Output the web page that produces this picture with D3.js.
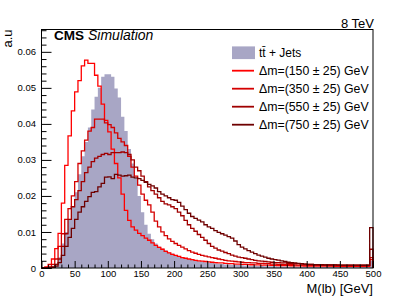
<!DOCTYPE html>
<html>
<head>
<meta charset="utf-8">
<script src="https://cdn.jsdelivr.net/npm/d3@7"></script>
<style>
body { margin: 0; background: #fff; }
text { font-family: "Liberation Sans", Arial, sans-serif; }
</style>
</head>
<body>
<div id="chart"></div>
<script>
var width = 415, height = 298
var margin = {top: 29.5, right: 42, bottom: 30, left: 41.5}

// 5 GeV bins from 0 to 500, values in a.u.
var binWidth = 5
var binStarts = d3.range(0, 500, binWidth)

var ttbar = [
  0, 0, 0.0002, 0.0006, 0.0012, 0.003, 0.0068, 0.0100, 0.0135, 0.0170,
  0.0210, 0.0260, 0.0310, 0.0350, 0.0390, 0.0440, 0.0475, 0.0500, 0.0531, 0.0538,
  0.0538, 0.0531, 0.0498, 0.0473, 0.0420, 0.0380, 0.0330, 0.0290, 0.0250, 0.0200,
  0.0155, 0.0120, 0.0095, 0.0080, 0.0068, 0.0060, 0.0054, 0.0049, 0.0044, 0.0040,
  0.0036, 0.0033, 0.0030, 0.0027, 0.0025, 0.0023, 0.0021, 0.0019, 0.0018, 0.0016,
  0.0015, 0.0014, 0.0013, 0.0012, 0.0011, 0.0010, 0.00095, 0.0009, 0.00085, 0.0008,
  0.00075, 0.0007, 0.00068, 0.00065, 0.0006, 0.00058, 0.00055, 0.00052, 0.0005, 0.00048,
  0.00046, 0.00044, 0.00042, 0.0004, 0.00038, 0.00037, 0.00036, 0.00035, 0.00034, 0.00033,
  0.00032, 0.00031, 0.0003, 0.0003, 0.00029, 0.00028, 0.00028, 0.00027, 0.00026, 0.00026,
  0.00025, 0.00025, 0.00024, 0.00024, 0.00023, 0.00023, 0.00022, 0.00022, 0.00021, 0.0020
]
var dm150 = [
  0, 0.0003, 0.0010, 0.0025, 0.0054, 0.0096, 0.0180, 0.0285, 0.0367, 0.0436,
  0.0489, 0.0520, 0.0561, 0.0577, 0.0568, 0.0568, 0.0535, 0.0505, 0.0455, 0.0410,
  0.0378, 0.0330, 0.0290, 0.0250, 0.0205, 0.0160, 0.0132, 0.0114, 0.0105, 0.0096,
  0.0090, 0.0083, 0.0077, 0.0070, 0.0063, 0.0057, 0.0052, 0.0046, 0.0042, 0.0038,
  0.0035, 0.0032, 0.0029, 0.0027, 0.0025, 0.0023, 0.0021, 0.0020, 0.0019, 0.0018,
  0.0017, 0.0016, 0.0015, 0.0014, 0.0014, 0.0013, 0.0012, 0.0012, 0.0011, 0.0011,
  0.0010, 0.0010, 0.00095, 0.0009, 0.00088, 0.00085, 0.00082, 0.0008, 0.00078, 0.00075,
  0.00072, 0.0007, 0.00068, 0.00066, 0.00064, 0.00062, 0.0006, 0.0006, 0.00058, 0.00056,
  0.00055, 0.00054, 0.00053, 0.00052, 0.00052, 0.00051, 0.0005, 0.0005, 0.00049, 0.00049,
  0.00048, 0.00048, 0.00047, 0.00047, 0.00046, 0.00046, 0.00045, 0.00045, 0.00045, 0.0023
]
var dm350 = [
  0, 0, 0.0003, 0.0010, 0.0025, 0.0060, 0.0095, 0.0135, 0.0165, 0.0200,
  0.0240, 0.0290, 0.0325, 0.0355, 0.0380, 0.0390, 0.0413, 0.0413, 0.0413, 0.0403,
  0.0398, 0.0390, 0.0375, 0.0360, 0.0350, 0.0340, 0.0310, 0.0280, 0.0255, 0.0230,
  0.0205, 0.0188, 0.0175, 0.0155, 0.0130, 0.0114, 0.0100, 0.0090, 0.0081, 0.0074,
  0.0068, 0.0063, 0.0058, 0.0053, 0.0048, 0.0044, 0.0041, 0.0038, 0.0035, 0.0033,
  0.0031, 0.0029, 0.0027, 0.0025, 0.0023, 0.0021, 0.0020, 0.0019, 0.0018, 0.0017,
  0.0016, 0.0015, 0.0015, 0.0014, 0.0014, 0.0013, 0.0013, 0.0012, 0.0012, 0.0011,
  0.0011, 0.0010, 0.0010, 0.00095, 0.0009, 0.0009, 0.00085, 0.0008, 0.0008, 0.00078,
  0.00076, 0.00075, 0.00074, 0.00073, 0.00072, 0.00071, 0.0007, 0.0007, 0.00069, 0.00068,
  0.00068, 0.00067, 0.00067, 0.00066, 0.00066, 0.00065, 0.00065, 0.00064, 0.00064, 0.0029
]
var dm550 = [
  0, 0, 0.0001, 0.0003, 0.0010, 0.0025, 0.0060, 0.0095, 0.0135, 0.0170,
  0.0190, 0.0215, 0.0240, 0.0265, 0.0280, 0.0295, 0.0305, 0.0310, 0.0315, 0.0318,
  0.0315, 0.0320, 0.0320, 0.0320, 0.0322, 0.0320, 0.0315, 0.0300, 0.0280, 0.0270,
  0.0255, 0.0240, 0.0225, 0.0215, 0.0205, 0.0195, 0.0185, 0.0178, 0.0175, 0.0170,
  0.0165, 0.0155, 0.0145, 0.0132, 0.0120, 0.0110, 0.0102, 0.0093, 0.0085, 0.0077,
  0.0068, 0.0060, 0.0055, 0.0050, 0.0047, 0.0043, 0.0040, 0.0036, 0.0033, 0.0030,
  0.0029, 0.0027, 0.0025, 0.0023, 0.0021, 0.0020, 0.0019, 0.0018, 0.0017, 0.0016,
  0.0015, 0.0015, 0.0014, 0.0014, 0.0013, 0.0013, 0.0012, 0.0012, 0.0011, 0.0011,
  0.0010, 0.0010, 0.00095, 0.00093, 0.0009, 0.00088, 0.00086, 0.00085, 0.00084, 0.00083,
  0.00082, 0.00081, 0.0008, 0.0008, 0.00079, 0.00078, 0.00078, 0.00077, 0.00076, 0.0052
]
var dm750 = [
  0, 0, 0, 0.0002, 0.0005, 0.0015, 0.0035, 0.0060, 0.0085, 0.0110,
  0.0135, 0.0155, 0.0170, 0.0185, 0.0198, 0.0210, 0.0212, 0.0225, 0.0235, 0.0252,
  0.0253, 0.0248, 0.0260, 0.0258, 0.0255, 0.0256, 0.0258, 0.0252, 0.0250, 0.0248,
  0.0243, 0.0238, 0.0232, 0.0228, 0.0222, 0.0212, 0.0205, 0.0200, 0.0195, 0.0190,
  0.0188, 0.0182, 0.0172, 0.0162, 0.0152, 0.0143, 0.0138, 0.0133, 0.0128, 0.0120,
  0.0114, 0.0110, 0.0104, 0.0099, 0.0095, 0.0091, 0.0087, 0.0083, 0.0075, 0.0065,
  0.0058, 0.0053, 0.0048, 0.0044, 0.0040, 0.0036, 0.0033, 0.0030, 0.0027, 0.0025,
  0.0023, 0.0022, 0.0020, 0.0018, 0.0016, 0.0015, 0.0014, 0.0013, 0.0012, 0.0011,
  0.0010, 0.0010, 0.00095, 0.00092, 0.0009, 0.00088, 0.00086, 0.00085, 0.00084, 0.00082,
  0.00081, 0.0008, 0.0008, 0.00079, 0.00078, 0.00078, 0.00077, 0.00076, 0.00076, 0.0112
]

var signalLabels = ['Δm=(150 ± 25) GeV', 'Δm=(350 ± 25) GeV', 'Δm=(550 ± 25) GeV', 'Δm=(750 ± 25) GeV']
var signalColors = ['#ff0000', '#d40000', '#a00000', '#6e0000']
var yMajor = [0, 0.01, 0.02, 0.03, 0.04, 0.05, 0.06]
var xMajor = [0, 50, 100, 150, 200, 250, 300, 350, 400, 450, 500]

var signals = [dm150, dm350, dm550, dm750]

var svg = d3.select('#chart').append('svg')
  .attr('width', width)
  .attr('height', height)

var x = d3.scaleLinear().domain([0, 500]).range([margin.left, width - margin.right])
var y = d3.scaleLinear().domain([0, 0.0662]).range([height - margin.bottom, margin.top])

var steps = function (values) {
  var pts = [[0, 0]]
  values.forEach(function (v, i) {
    pts.push([binStarts[i], v])
    pts.push([binStarts[i] + binWidth, v])
  })
  pts.push([500, 0])
  return pts
}

var area = d3.area().x(function (d) { return x(d[0]) }).y0(y(0)).y1(function (d) { return y(d[1]) })
var line = d3.line().x(function (d) { return x(d[0]) }).y(function (d) { return y(d[1]) })

svg.append('path').attr('d', area(steps(ttbar))).attr('fill', '#a8a6c5')

signals.forEach(function (s, i) {
  svg.append('path').attr('d', line(steps(s)))
    .attr('fill', 'none')
    .attr('stroke', signalColors[i])
    .attr('stroke-width', 1.3)
})

// axes, ROOT style ticks pointing inside
var yMinor = d3.range(0, 0.0661, 0.002).filter(function (v) { return Math.round(v * 1000) % 10 !== 0 })
var xMinor = d3.range(0, 500, 10).filter(function (v) { return v % 50 !== 0 })

svg.append('g').attr('transform', 'translate(' + margin.left + ',0)')
  .call(d3.axisLeft(y).tickValues(yMajor).tickSize(-10).tickPadding(5.5)
    .tickFormat(function (d) { return d === 0 ? '0' : d.toFixed(2) }))
svg.append('g').attr('transform', 'translate(' + margin.left + ',0)')
  .call(d3.axisLeft(y).tickValues(yMinor).tickSize(-5).tickFormat(''))

svg.append('g').attr('transform', 'translate(0,' + (height - margin.bottom) + ')')
  .call(d3.axisBottom(x).tickValues(xMajor).tickSize(-7).tickPadding(2))
svg.append('g').attr('transform', 'translate(0,' + (height - margin.bottom) + ')')
  .call(d3.axisBottom(x).tickValues(xMinor).tickSize(-3.5).tickFormat(''))

svg.selectAll('.domain').remove()
svg.selectAll('.tick line').attr('stroke', '#000')
svg.selectAll('.tick text').attr('font-family', '"Liberation Sans", Arial, sans-serif')
  .attr('font-size', 9.5).attr('fill', '#000')

// frame
svg.append('rect')
  .attr('x', x(0)).attr('y', y(0.0662))
  .attr('width', x(500) - x(0)).attr('height', y(0) - y(0.0662))
  .attr('fill', 'none').attr('stroke', '#000').attr('stroke-width', 1)

// titles
svg.append('text').attr('transform', 'translate(12,' + margin.top + ') rotate(-90)')
  .attr('text-anchor', 'end').attr('font-size', 13).text('a.u')
svg.append('text').attr('x', x(500)).attr('y', 292.5)
  .attr('text-anchor', 'end').attr('font-size', 13).text('M(lb) [GeV]')
svg.append('text').attr('x', 374).attr('y', 28)
  .attr('text-anchor', 'end').attr('font-size', 13).text('8 TeV')

var cms = svg.append('text').attr('x', 54).attr('y', 40).attr('font-size', 13.5)
cms.append('tspan').attr('font-weight', 'bold').text('CMS')
cms.append('tspan').attr('font-style', 'italic').attr('font-size', 14).attr('dx', 4).text('Simulation')

// legend
var legX = 232, legY = 52.7, legStep = 18
svg.append('rect').attr('x', legX).attr('y', legY - 6.3).attr('width', 23).attr('height', 12.7)
  .attr('fill', '#a8a6c5')
svg.append('text').attr('x', legX + 27).attr('y', legY).attr('dy', '0.35em')
  .attr('font-size', 12).text('tt\u0304 + Jets')

signalLabels.forEach(function (lab, i) {
  var yy = legY + legStep * (i + 1)
  svg.append('line').attr('x1', legX).attr('x2', legX + 22).attr('y1', yy).attr('y2', yy)
    .attr('stroke', signalColors[i]).attr('stroke-width', 1.8)
  svg.append('text').attr('x', legX + 27).attr('y', yy).attr('dy', '0.35em')
    .attr('font-size', 12.3).text(lab)
})
</script>
</body>
</html>
